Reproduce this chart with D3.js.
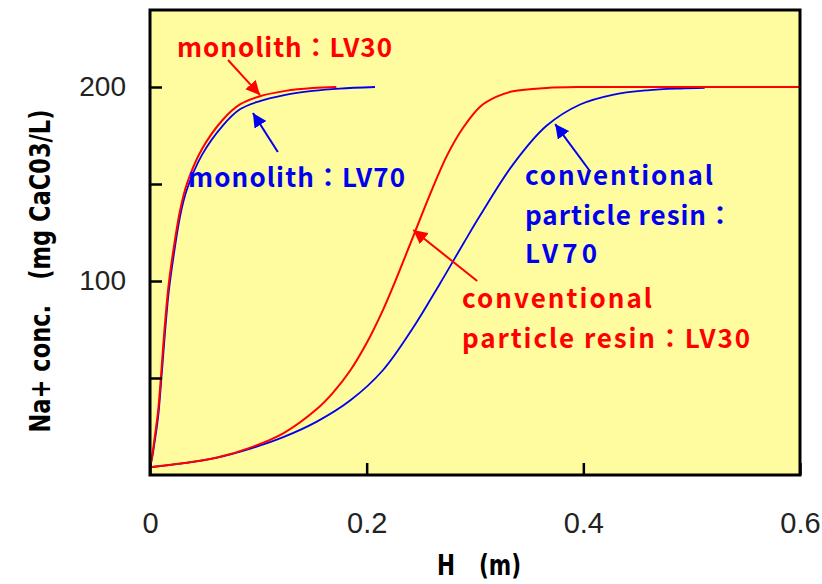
<!DOCTYPE html>
<html>
<head>
  <meta charset="utf-8">
  <script src="https://d3js.org/d3.v7.min.js"></script>
  <style>
    body { margin: 0; background: #ffffff; }
    svg { display: block; }
  </style>
</head>
<body>
<svg width="822" height="584"></svg>
<script>
// breakthrough curves: H (m) vs Na+ conc. (mg CaCO3/L)
var monoH30 = [0, 0.002, 0.004, 0.0075, 0.01, 0.0135, 0.017, 0.02, 0.028, 0.034, 0.048, 0.067, 0.083, 0.1, 0.125, 0.15, 0.172];
var monoC30 = [4, 10, 18, 33, 50, 76, 97, 110, 137, 150, 168, 183, 191, 195, 198, 199.5, 200];

var monoH70 = [0, 0.002, 0.004, 0.0075, 0.01, 0.0135, 0.017, 0.02, 0.028, 0.034, 0.048, 0.067, 0.083, 0.1, 0.125, 0.15, 0.175, 0.2077];
var monoC70 = [4, 9, 16, 30, 46, 71, 93, 106, 134, 147, 165, 180, 188.5, 192.5, 196, 198, 199.2, 200];

var convH30 = [0, 0.03, 0.062, 0.092, 0.123, 0.154, 0.169, 0.185, 0.2, 0.215, 0.225, 0.243, 0.258, 0.274, 0.289, 0.305, 0.32, 0.335, 0.366, 0.397, 0.45, 0.6];
var convC30 = [4, 6, 9, 14, 21.5, 34, 42.5, 54, 68, 85, 98, 123, 144, 164.5, 179, 190, 195, 197.8, 199.5, 200, 200, 200];

var convH70 = [0, 0.03, 0.062, 0.092, 0.123, 0.154, 0.185, 0.215, 0.243, 0.268, 0.29, 0.305, 0.335, 0.366, 0.397, 0.427, 0.459, 0.489, 0.512];
var convC70 = [4, 6, 9, 13.5, 19.5, 27.5, 38.5, 54, 76, 99, 120, 134, 160, 180, 191, 196, 198.3, 199.2, 199.5];

var xTicks = [0, 0.2, 0.4, 0.6];
var yTicks = [50, 100, 150, 200];
var yTickLabels = [100, 200];

var RED = "#ff0000", BLUE = "#0000ee";

var svg = d3.select("svg");

var x = d3.scaleLinear().domain([0, 0.6]).range([150, 800]);
var y = d3.scaleLinear().domain([0, 200]).range([475, 87]);

// plot area
svg.append("rect")
  .attr("x", x(0)).attr("y", 10)
  .attr("width", x(0.6) - x(0)).attr("height", y(0) - 10)
  .attr("fill", "#fefc9e");

// arrow heads
var defs = svg.append("defs");
[["headRed", RED], ["headBlue", BLUE]].forEach(function (m) {
  defs.append("marker")
    .attr("id", m[0])
    .attr("viewBox", "0 0 10 10")
    .attr("refX", 10).attr("refY", 5)
    .attr("markerWidth", 7).attr("markerHeight", 7)
    .attr("markerUnits", "strokeWidth")
    .attr("orient", "auto")
    .append("path").attr("d", "M0,0 L10,5 L0,10 z").attr("fill", m[1]);
});

function series(hs, cs) {
  return hs.map(function (h, i) { return [h, cs[i]]; });
}

var line = d3.line()
  .x(function (d) { return x(d[0]); })
  .y(function (d) { return y(d[1]); })
  .curve(d3.curveCatmullRom.alpha(0.5));

// blue first, red drawn over it
svg.append("path").datum(series(convH70, convC70))
  .attr("d", line).attr("fill", "none").attr("stroke", BLUE).attr("stroke-width", 1.8);
svg.append("path").datum(series(monoH70, monoC70))
  .attr("d", line).attr("fill", "none").attr("stroke", BLUE).attr("stroke-width", 1.8);
svg.append("path").datum(series(convH30, convC30))
  .attr("d", line).attr("fill", "none").attr("stroke", RED).attr("stroke-width", 2);
svg.append("path").datum(series(monoH30, monoC30))
  .attr("d", line).attr("fill", "none").attr("stroke", RED).attr("stroke-width", 2);

// axes: ticks point inward
var xAxis = d3.axisBottom(x).tickValues(xTicks).tickSizeInner(-12).tickSizeOuter(0)
  .tickFormat(function (d) { return d === 0 ? "0" : d3.format(".1f")(d); });
var gx = svg.append("g").attr("transform", "translate(0," + y(0) + ")").call(xAxis);
gx.select(".domain").remove();
gx.selectAll("line").attr("stroke", "#000").attr("stroke-width", 2.5);
gx.selectAll("text")
  .attr("y", 58).attr("dy", 0)
  .attr("fill", "#222")
  .attr("font-family", "Liberation Sans, Arial, sans-serif")
  .attr("font-size", 29);

var yAxis = d3.axisLeft(y).tickValues(yTicks).tickSizeInner(-12).tickSizeOuter(0)
  .tickFormat(function (d) { return yTickLabels.indexOf(d) >= 0 ? d : ""; });
var gy = svg.append("g").attr("transform", "translate(" + x(0) + ",0)").call(yAxis);
gy.select(".domain").remove();
gy.selectAll("line").attr("stroke", "#000").attr("stroke-width", 2.5);
gy.selectAll("text")
  .attr("x", -24)
  .attr("fill", "#222")
  .attr("font-family", "Liberation Sans, Arial, sans-serif")
  .attr("font-size", 28);

// frame
svg.append("rect")
  .attr("x", x(0)).attr("y", 10)
  .attr("width", x(0.6) - x(0)).attr("height", y(0) - 10)
  .attr("fill", "none").attr("stroke", "#000").attr("stroke-width", 3);

// axis titles
svg.append("text")
  .attr("x", 437).attr("y", 575)
  .attr("font-family", "Liberation Sans Narrow, DejaVu Sans Condensed, sans-serif")
  .attr("font-weight", "bold").attr("font-size", 28)
  .attr("textLength", 84).attr("lengthAdjust", "spacingAndGlyphs")
  .attr("fill", "#000")
  .text("H　(m)");

svg.append("text")
  .attr("transform", "translate(50,271) rotate(-90)")
  .attr("text-anchor", "middle")
  .attr("font-family", "Liberation Sans Narrow, DejaVu Sans Condensed, sans-serif")
  .attr("font-weight", "bold").attr("font-size", 28)
  .attr("textLength", 323).attr("lengthAdjust", "spacingAndGlyphs")
  .attr("fill", "#000")
  .text("Na+ conc.　(mg CaC03/L)");

// annotations
function label(px, py, len, txt, col) {
  svg.append("text")
    .attr("x", px).attr("y", py)
    .attr("font-family", "Noto Sans CJK JP, Noto Sans, sans-serif")
    .attr("font-weight", "bold").attr("font-size", 26)
    .attr("textLength", len).attr("lengthAdjust", "spacing")
    .attr("fill", col)
    .text(txt);
}
function arrow(h0, c0, h1, c1, col, head) {
  svg.append("line")
    .attr("x1", x(h0)).attr("y1", y(c0))
    .attr("x2", x(h1)).attr("y2", y(c1))
    .attr("stroke", col).attr("stroke-width", 2)
    .attr("marker-end", "url(#" + head + ")");
}

label(177, 57, 215, "monolith：LV30", RED);
arrow(0.072, 213.9, 0.1015, 195.9, RED, "headRed");

label(188, 187, 217, "monolith：LV70", BLUE);
arrow(0.118, 166.5, 0.095, 186.6, BLUE, "headBlue");

label(525, 185, 188, "conventional", BLUE);
label(525, 225, 208, "particle resin：", BLUE);
label(525, 263, 72, "LV70", BLUE);
arrow(0.406, 156.7, 0.374, 180.9, BLUE, "headBlue");

label(462, 308, 190, "conventional", RED);
label(462, 348, 288, "particle resin：LV30", RED);
arrow(0.302, 100, 0.243, 126.3, RED, "headRed");
</script>
</body>
</html>
